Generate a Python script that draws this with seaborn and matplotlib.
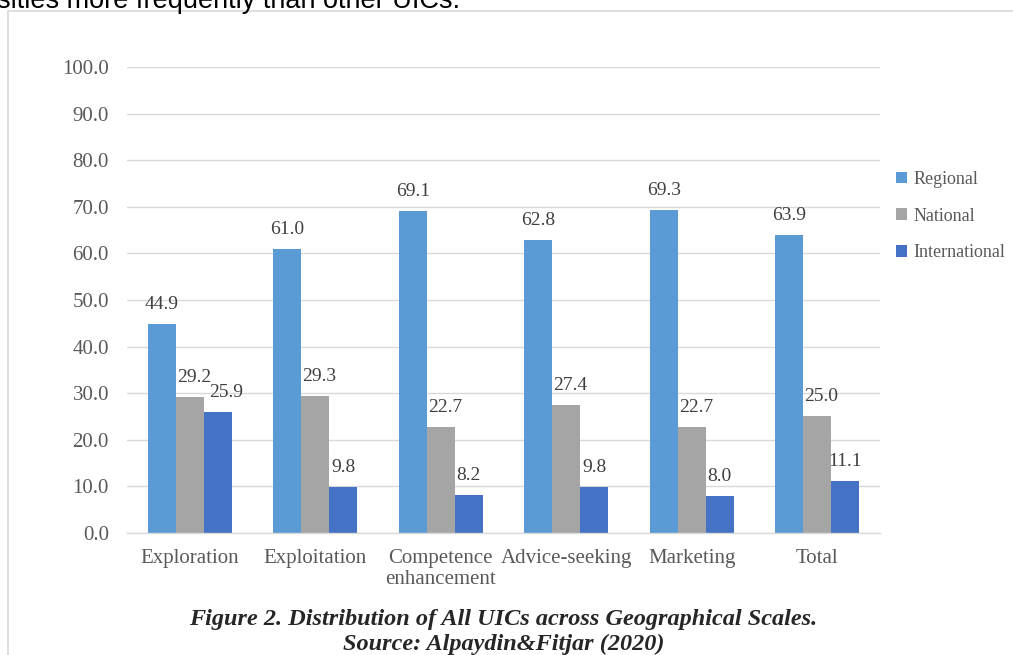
import matplotlib
matplotlib.use("Agg")
import matplotlib.pyplot as plt
import matplotlib.patches as mpatches
import seaborn as sns
import pandas as pd

categories = ["Exploration", "Exploitation", "Competence\nenhancement", "Advice-seeking", "Marketing", "Total"]
series = ["Regional", "National", "International"]
regional = [44.9, 61.0, 69.1, 62.8, 69.3, 63.9]
national = [29.2, 29.3, 22.7, 27.4, 22.7, 25.0]
international = [25.9, 9.8, 8.2, 9.8, 8.0, 11.1]
yticks = [0, 10, 20, 30, 40, 50, 60, 70, 80, 90, 100]
colors = ["#5B9BD5", "#A5A5A5", "#4472C4"]

rows = []
for s, vals in zip(series, [regional, national, international]):
    for c, v in zip(categories, vals):
        rows.append({"category": c, "series": s, "value": v})
df = pd.DataFrame(rows)

sns.set_style("white")
plt.rcParams["font.family"] = ["Liberation Serif", "DejaVu Serif"]

fig = plt.figure(figsize=(10.13, 6.55), dpi=100)
ax = fig.add_axes([0.1254, 0.1863, 0.8687 - 0.1254, 0.8977 - 0.1863])

sns.barplot(data=df, x="category", y="value", hue="series", order=categories,
            hue_order=series, palette=colors, width=0.67, saturation=1,
            ax=ax, legend=True, edgecolor="none")

ax.set_xlim(-0.5, 5.5)
ax.set_ylim(0, 100)
ax.set_yticks(yticks)
ax.set_yticklabels([f"{t:.1f}" for t in yticks])
ax.yaxis.grid(True, color="#D9D9D9", linewidth=1)
ax.set_axisbelow(True)
for sp in ["top", "right", "left"]:
    ax.spines[sp].set_visible(False)
ax.spines["bottom"].set_color("#D9D9D9")
ax.spines["bottom"].set_linewidth(1)
ax.tick_params(axis="both", length=0, labelsize=15, labelcolor="#595959")
ax.tick_params(axis="y", pad=13)
ax.tick_params(axis="x", pad=11.5)
for lbl in ax.get_xticklabels():
    lbl.set_linespacing(1.15)
ax.set_xlabel("")
ax.set_ylabel("")

for i, cont in enumerate(ax.containers):
    texts = ax.bar_label(cont, fmt="%.1f", padding=8, fontsize=14, color="#404040")
    if i == 1:
        for t in texts:
            t.xyann = (3, t.xyann[1])
    if i == 2:
        texts[0].xyann = (6, texts[0].xyann[1])

handles, labels = ax.get_legend_handles_labels()
ax.legend(handles, labels, loc="center left", bbox_to_anchor=(0.876, 1 - 216 / 655),
          bbox_transform=fig.transFigure, frameon=False, fontsize=13,
          labelcolor="#595959", handlelength=0.6, handleheight=0.6,
          handletextpad=0.35, labelspacing=1.1, borderpad=0)

# chart border
rect = mpatches.Rectangle((8 / 1013, -0.01), 1.02, 1 - 11 / 655 + 0.01,
                          transform=fig.transFigure, fill=False,
                          edgecolor="#D9D9D9", linewidth=1.2)
fig.add_artist(rect)

# cut-off text from surrounding page
fig.text(-0.003, 1 - 8 / 655, "sities more frequently than other UICs.",
         fontsize=19.5, family=["Liberation Sans", "DejaVu Sans"], color="black",
         va="baseline", ha="left")

fig.text(0.497, 1 - 625 / 655, "Figure 2. Distribution of All UICs across Geographical Scales.",
         fontsize=17.5, fontweight="bold", fontstyle="italic", ha="center", va="baseline")
fig.text(0.497, 1 - 650 / 655, "Source: Alpaydin&Fitjar (2020)",
         fontsize=17.5, fontweight="bold", fontstyle="italic", ha="center", va="baseline")

fig.savefig("out.png", dpi=100)
